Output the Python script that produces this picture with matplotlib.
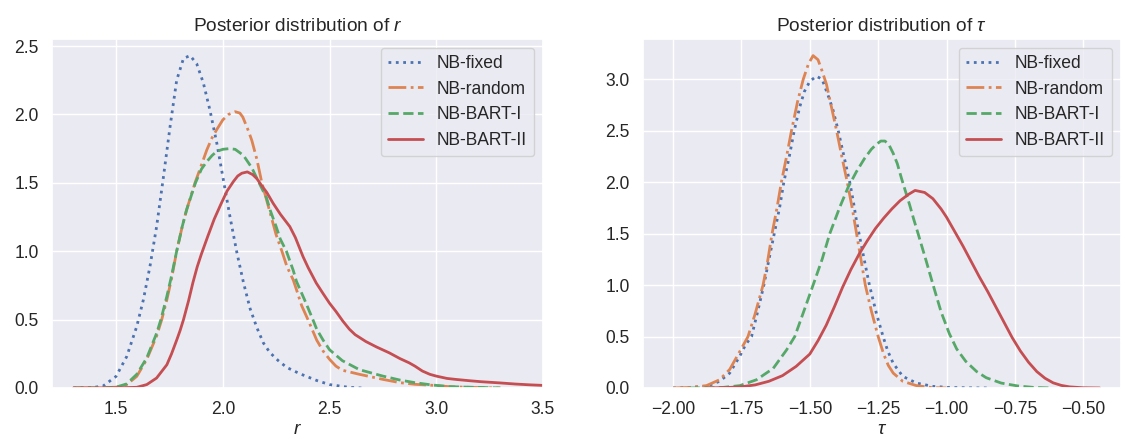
import numpy as np
import matplotlib
matplotlib.use("Agg")
import matplotlib.pyplot as plt
from matplotlib.ticker import MultipleLocator
import seaborn as sns

# posterior density curves
labels = ["NB-fixed", "NB-random", "NB-BART-I", "NB-BART-II"]

r_fixed_x = [1.30, 1.39, 1.44, 1.50, 1.55, 1.597, 1.628, 1.659, 1.69, 1.72, 1.753, 1.784, 1.816,
             1.847, 1.878, 1.909, 1.94, 1.972, 2.003, 2.034, 2.066, 2.097, 2.128, 2.16, 2.19,
             2.22, 2.26, 2.30, 2.36, 2.44, 2.50, 2.59, 2.65]
r_fixed_y = [0.0, 0.003, 0.015, 0.085, 0.23, 0.45, 0.645, 0.89, 1.18, 1.52, 1.91, 2.25, 2.41,
             2.43, 2.37, 2.23, 2.03, 1.79, 1.52, 1.25, 0.99, 0.77, 0.58, 0.44, 0.33,
             0.26, 0.20, 0.15, 0.105, 0.055, 0.025, 0.005, 0.0]

r_random_x = [1.30, 1.45, 1.50, 1.55, 1.597, 1.644, 1.69, 1.714, 1.738, 1.76, 1.784, 1.81, 1.83,
              1.87, 1.90, 1.925, 1.95, 1.972, 2.00, 2.027, 2.058, 2.08, 2.094, 2.12, 2.136, 2.16,
              2.183, 2.222, 2.25, 2.277, 2.30, 2.33, 2.345, 2.37, 2.399, 2.44, 2.47, 2.50, 2.53,
              2.56, 2.64, 2.75, 2.83, 2.90, 2.98, 3.06, 3.15, 3.21, 3.30]
r_random_y = [0.0, 0.002, 0.006, 0.025, 0.085, 0.21, 0.38, 0.5, 0.645, 0.80, 1.0, 1.18, 1.30,
              1.5, 1.63, 1.74, 1.83, 1.89, 1.96, 2.0, 2.02, 2.01, 1.98, 1.88, 1.81, 1.67,
              1.5, 1.28, 1.12, 1.0, 0.89, 0.79, 0.72, 0.60, 0.5, 0.35, 0.27, 0.21, 0.16,
              0.13, 0.10, 0.063, 0.039, 0.027, 0.02, 0.01, 0.005, 0.003, 0.0]

r_bart1_x = [1.30, 1.45, 1.50, 1.55, 1.597, 1.644, 1.69, 1.71, 1.738, 1.76, 1.784, 1.81, 1.83,
             1.872, 1.90, 1.925, 1.95, 1.972, 2.00, 2.03, 2.058, 2.08, 2.097, 2.136, 2.17, 2.205,
             2.222, 2.25, 2.269, 2.298, 2.33, 2.345, 2.39, 2.422, 2.44, 2.47, 2.50, 2.56, 2.64,
             2.75, 2.83, 2.90, 2.98, 3.06, 3.15, 3.21, 3.30]
r_bart1_y = [0.0, 0.002, 0.006, 0.03, 0.10, 0.22, 0.40, 0.5, 0.67, 0.82, 1.0, 1.18, 1.30,
             1.5, 1.60, 1.655, 1.70, 1.73, 1.745, 1.75, 1.745, 1.72, 1.70, 1.61, 1.5, 1.39,
             1.30, 1.18, 1.09, 1.0, 0.86, 0.78, 0.62, 0.5, 0.43, 0.35, 0.28, 0.20, 0.134,
             0.087, 0.058, 0.039, 0.022, 0.01, 0.006, 0.004, 0.0]

r_bart2_x = [1.30, 1.50, 1.597, 1.644, 1.69, 1.738, 1.76, 1.784, 1.80, 1.816, 1.84, 1.86, 1.88,
             1.90, 1.93, 1.96, 1.99, 2.02, 2.05, 2.07, 2.089, 2.115, 2.14, 2.16, 2.182,
             2.206, 2.236, 2.27, 2.314, 2.34, 2.376, 2.40, 2.438, 2.47, 2.50, 2.53, 2.562, 2.593,
             2.62, 2.67, 2.72, 2.78, 2.83, 2.873, 2.90, 2.935, 2.97, 3.00, 3.05, 3.09, 3.15,
             3.21, 3.30, 3.37, 3.44, 3.50]
r_bart2_y = [0.0, 0.001, 0.005, 0.025, 0.073, 0.17, 0.25, 0.35, 0.42, 0.5, 0.64, 0.77, 0.885,
             0.98, 1.11, 1.235, 1.34, 1.44, 1.51, 1.55, 1.57, 1.58, 1.56, 1.53, 1.48,
             1.43, 1.35, 1.27, 1.18, 1.10, 0.96, 0.88, 0.767, 0.69, 0.62, 0.56, 0.49, 0.43,
             0.39, 0.34, 0.30, 0.257, 0.215, 0.184, 0.16, 0.124, 0.10, 0.087, 0.07, 0.063, 0.054,
             0.046, 0.037, 0.029, 0.023, 0.019]

t_fixed_x = [-2.00, -1.94, -1.878, -1.83, -1.793, -1.756, -1.735, -1.713, -1.69, -1.668, -1.65,
             -1.63, -1.61, -1.595, -1.575, -1.557, -1.537, -1.52, -1.50, -1.476, -1.455, -1.43,
             -1.415, -1.396, -1.375, -1.354, -1.34, -1.329, -1.305, -1.282, -1.256, -1.232,
             -1.215, -1.195, -1.16, -1.11, -1.05, -0.99, -0.90, -0.84]
t_fixed_y = [0.0, 0.005, 0.016, 0.065, 0.145, 0.31, 0.42, 0.5, 0.75, 1.0, 1.24,
             1.5, 1.76, 2.0, 2.25, 2.5, 2.73, 2.88, 2.98, 3.03, 3.0, 2.82,
             2.70, 2.5, 2.25, 2.0, 1.80, 1.62, 1.30, 1.0, 0.72, 0.5,
             0.36, 0.24, 0.113, 0.048, 0.016, 0.005, 0.001, 0.0]

t_random_x = [-2.00, -1.94, -1.878, -1.83, -1.793, -1.756, -1.726, -1.70, -1.671, -1.655, -1.638,
              -1.62, -1.604, -1.585, -1.567, -1.545, -1.524, -1.505, -1.488, -1.47, -1.455,
              -1.439, -1.42, -1.402, -1.383, -1.363, -1.345, -1.329, -1.313, -1.297, -1.275,
              -1.25, -1.23, -1.213, -1.195, -1.16, -1.11, -1.05, -1.00]
t_random_y = [0.0, 0.005, 0.023, 0.08, 0.18, 0.355, 0.5, 0.72, 1.0, 1.22, 1.5,
              1.75, 2.0, 2.25, 2.5, 2.78, 3.0, 3.15, 3.23, 3.19, 3.08,
              2.95, 2.72, 2.5, 2.25, 2.0, 1.75, 1.5, 1.25, 1.0, 0.75,
              0.5, 0.33, 0.22, 0.145, 0.065, 0.023, 0.003, 0.0]

t_bart1_x = [-1.94, -1.85, -1.817, -1.756, -1.695, -1.634, -1.585, -1.555, -1.52, -1.488, -1.455,
             -1.427, -1.39, -1.36, -1.33, -1.30, -1.275, -1.256, -1.24, -1.225, -1.21, -1.195,
             -1.18, -1.165, -1.15, -1.135, -1.12, -1.104, -1.075, -1.049, -1.02, -0.99, -0.963,
             -0.93, -0.89, -0.855, -0.80, -0.74, -0.683, -0.62]
t_bart1_y = [0.0, 0.003, 0.006, 0.023, 0.08, 0.19, 0.37, 0.5, 0.76, 1.0, 1.25,
             1.5, 1.76, 1.95, 2.10, 2.23, 2.32, 2.37, 2.40, 2.40, 2.36, 2.28,
             2.18, 2.04, 1.91, 1.78, 1.64, 1.5, 1.24, 1.0, 0.74, 0.53, 0.38,
             0.26, 0.16, 0.1, 0.048, 0.02, 0.006, 0.0]

t_bart2_x = [-1.88, -1.80, -1.75, -1.70, -1.65, -1.60, -1.55, -1.50, -1.47, -1.44, -1.41,
             -1.38, -1.35, -1.32, -1.29, -1.26, -1.23, -1.20, -1.17, -1.14, -1.115, -1.08,
             -1.05, -1.02, -1.00, -0.97, -0.94, -0.91, -0.88, -0.85, -0.82, -0.79, -0.76,
             -0.73, -0.70, -0.67, -0.64, -0.61, -0.58, -0.55, -0.50, -0.44]
t_bart2_y = [0.0, 0.005, 0.012, 0.03, 0.065, 0.12, 0.21, 0.33, 0.46, 0.61, 0.79,
             0.98, 1.15, 1.30, 1.43, 1.55, 1.65, 1.74, 1.82, 1.88, 1.92, 1.90,
             1.84, 1.74, 1.66, 1.52, 1.38, 1.23, 1.08, 0.94, 0.79, 0.64, 0.49,
             0.36, 0.25, 0.16, 0.095, 0.05, 0.025, 0.011, 0.002, 0.0]

r_curves = [(r_fixed_x, r_fixed_y), (r_random_x, r_random_y),
            (r_bart1_x, r_bart1_y), (r_bart2_x, r_bart2_y)]
t_curves = [(t_fixed_x, t_fixed_y), (t_random_x, t_random_y),
            (t_bart1_x, t_bart1_y), (t_bart2_x, t_bart2_y)]

styles = [":", "-.", "--", "-"]

sns.set_theme(style="darkgrid", font_scale=1.15)
plt.rcParams["font.family"] = ["Liberation Sans", "DejaVu Sans"]
plt.rcParams["mathtext.fontset"] = "custom"
plt.rcParams["mathtext.rm"] = "Liberation Sans"
plt.rcParams["mathtext.it"] = "Liberation Sans:italic"
colors = sns.color_palette("deep")

fig = plt.figure(figsize=(11.23, 4.41), dpi=100)
ax1 = fig.add_axes([52 / 1123, 53 / 441, 491 / 1123, 349 / 441])
ax2 = fig.add_axes([643 / 1123, 53 / 441, 478 / 1123, 349 / 441])

for ax, curves, sym, xlim, step in [(ax1, r_curves, "r", (1.2, 3.5), 0.5),
                                    (ax2, t_curves, r"\tau", (-2.11, -0.362), 0.25)]:
    ymax = 0
    for (x, y), lab, ls, c in zip(curves, labels, styles, colors):
        ax.plot(x, y, ls=ls, color=c, lw=2.0, label=lab)
        ymax = max(ymax, max(y))
    ax.set_xlim(*xlim)
    ax.set_ylim(0, ymax * 1.05)
    ax.xaxis.set_major_locator(MultipleLocator(step))
    ax.yaxis.set_major_locator(MultipleLocator(0.5))
    ax.set_title("Posterior distribution of $%s$" % sym)
    ax.set_xlabel("$%s$" % sym, labelpad=2)
    ax.legend(loc="upper right")

fig.savefig("out.png", dpi=100)
